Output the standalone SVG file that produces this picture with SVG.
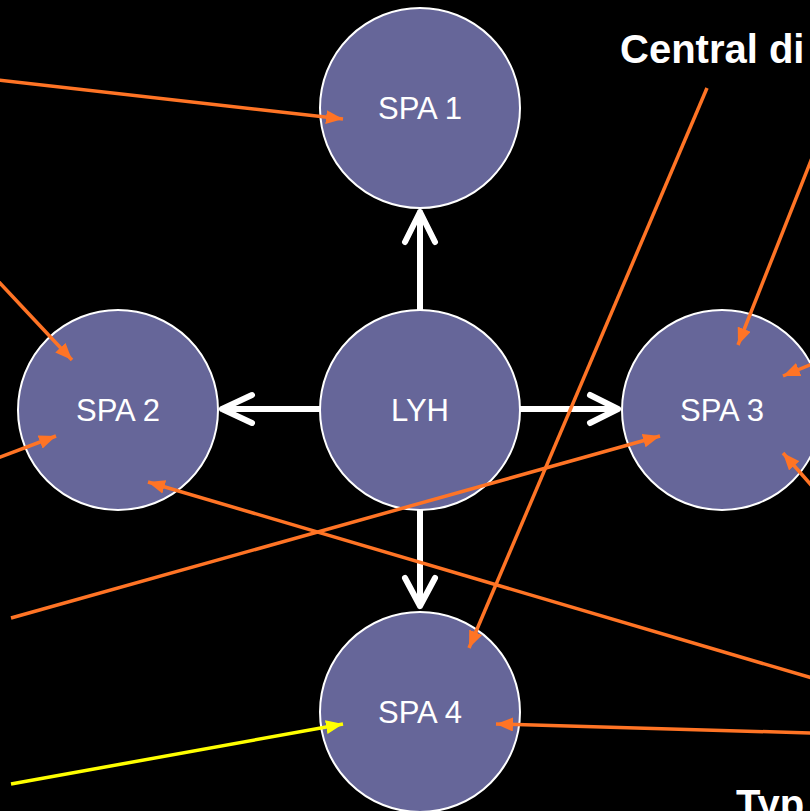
<svg xmlns="http://www.w3.org/2000/svg" width="810" height="811" viewBox="0 0 810 811">
<style>
.node{fill:#666699;stroke:#ffffff;stroke-width:2}
.lbl{fill:#ffffff;font-family:"Liberation Sans",Arial,sans-serif;font-size:31px;text-anchor:middle}
.title{fill:#ffffff;font-family:"Liberation Sans",Arial,sans-serif;font-size:40px;font-weight:bold}
.wa{fill:none;stroke:#ffffff;stroke-width:6;stroke-linecap:round;stroke-linejoin:round}
.oa{stroke:#FF7425;stroke-width:3.5;fill:none;marker-end:url(#oh)}
.ya{stroke:#FFFF00;stroke-width:3.5;fill:none;marker-end:url(#yh)}
</style>
<defs>
<marker id="oh" markerUnits="userSpaceOnUse" markerWidth="17" markerHeight="14" refX="17" refY="7" orient="auto">
<path d="M0,0 L17,7 L0,14 z" fill="#FF7425"/>
</marker>
<marker id="yh" markerUnits="userSpaceOnUse" markerWidth="17" markerHeight="14" refX="17" refY="7" orient="auto">
<path d="M0,0 L17,7 L0,14 z" fill="#FFFF00"/>
</marker>
</defs>
<rect x="0" y="0" width="810" height="811" fill="#000000"/>
<g id="links">
<path class="wa" d="M420,310 V212 M405,242 L420,212 L435,242"/>
<path class="wa" d="M320,409 H222 M252,395 L222,409 L252,423"/>
<path class="wa" d="M520,409 H618 M590,395 L618,409 L590,423"/>
<path class="wa" d="M420,510 V606 M405,578 L420,606 L435,578"/>
</g>
<g id="spa1"><circle class="node" cx="420" cy="108" r="100"/><text class="lbl" x="420" y="119">SPA 1</text></g>
<g id="spa2"><circle class="node" cx="118" cy="410" r="100"/><text class="lbl" x="118" y="421">SPA 2</text></g>
<g id="lyh"><circle class="node" cx="420" cy="410" r="100"/><text class="lbl" x="420" y="421">LYH</text></g>
<g id="spa3"><circle class="node" cx="722" cy="410" r="100"/><text class="lbl" x="722" y="421">SPA 3</text></g>
<g id="spa4"><circle class="node" cx="420" cy="712" r="100"/><text class="lbl" x="420" y="723">SPA 4</text></g>
<g id="connectors">
<line class="oa" x1="-2" y1="80" x2="343" y2="119"/>
<line class="oa" x1="-2" y1="281" x2="72" y2="360"/>
<line class="oa" x1="-2" y1="458" x2="56" y2="436"/>
<line class="oa" x1="812" y1="678" x2="148" y2="482"/>
<line class="oa" x1="11" y1="618" x2="660" y2="436"/>
<line class="oa" x1="707" y1="88" x2="469" y2="648"/>
<line class="oa" x1="812" y1="158" x2="738" y2="345"/>
<line class="oa" x1="812" y1="364" x2="783" y2="376"/>
<line class="oa" x1="812" y1="486" x2="783" y2="453"/>
<line class="oa" x1="812" y1="733" x2="496" y2="724"/>
<line class="ya" x1="11" y1="784" x2="343" y2="724"/>
</g>
<text class="title" x="620" y="63">Central di</text>
<text class="title" x="736" y="818">Typ</text>
</svg>
